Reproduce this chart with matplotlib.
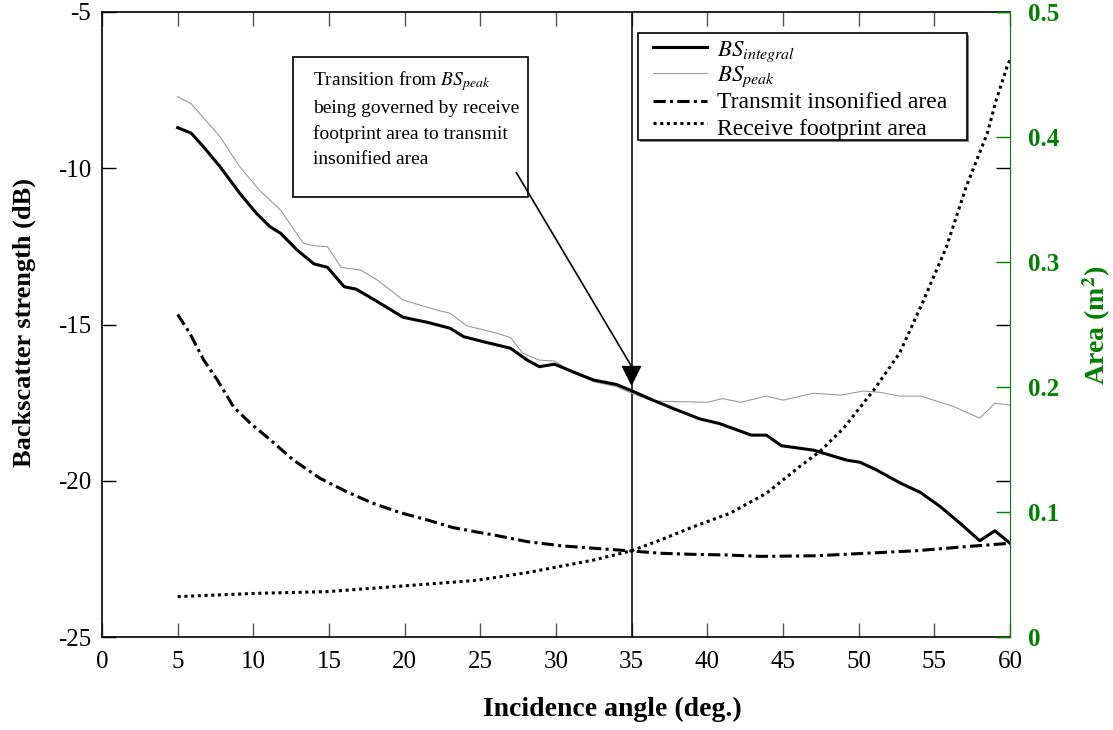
import matplotlib
matplotlib.use("Agg")
import matplotlib.pyplot as plt
from matplotlib.patches import Rectangle
from matplotlib.lines import Line2D
from matplotlib.transforms import ScaledTranslation

plt.rcParams['font.family'] = ['Liberation Serif', 'DejaVu Serif']
plt.rcParams['mathtext.fontset'] = 'stix'

# Backscatter strength (dB) versus incidence angle (deg)
bs_int_angle = [5.0, 5.9, 6.7, 7.8, 9.1, 10.2, 11.1, 11.8, 12.9, 14.0, 14.9, 16.0, 16.8,
                18.2, 19.9, 21.5, 23.0, 23.9, 25.2, 27.0, 28.1, 28.9, 29.9, 31.2, 32.5,
                34.0, 35.0, 36.4, 37.8, 39.5, 40.8, 42.9, 43.9, 44.9, 47.0, 49.2, 50.1,
                51.2, 52.7, 54.1, 55.4, 56.7, 58.0, 59.0, 60.0]
bs_integral = [-8.70, -8.88, -9.31, -9.95, -10.80, -11.44, -11.87, -12.08, -12.62, -13.06,
               -13.17, -13.79, -13.87, -14.27, -14.77, -14.93, -15.12, -15.39, -15.55,
               -15.76, -16.14, -16.35, -16.27, -16.53, -16.78, -16.92, -17.12, -17.42,
               -17.70, -18.02, -18.17, -18.54, -18.54, -18.88, -19.02, -19.34, -19.41,
               -19.66, -20.06, -20.38, -20.83, -21.36, -21.92, -21.60, -22.00]

bs_peak_angle = [5.0, 5.9, 7.8, 9.1, 10.4, 11.8, 13.3, 14.0, 14.9, 15.8, 17.1, 18.2, 19.9,
                 22.3, 23.0, 24.1, 26.1, 27.0, 27.8, 28.9, 29.9, 31.2, 32.5, 34.0, 35.0,
                 36.4, 38.2, 40.0, 41.0, 42.2, 43.9, 45.0, 47.0, 48.8, 50.3, 51.4, 52.7,
                 54.1, 56.3, 58.0, 59.0, 60.0]
bs_peak = [-7.71, -7.94, -8.99, -9.95, -10.70, -11.34, -12.40, -12.48, -12.51, -13.17,
           -13.26, -13.58, -14.22, -14.56, -14.64, -15.04, -15.28, -15.42, -15.92, -16.14,
           -16.17, -16.56, -16.83, -16.99, -17.20, -17.45, -17.47, -17.49, -17.37, -17.49,
           -17.29, -17.42, -17.20, -17.26, -17.13, -17.17, -17.29, -17.29, -17.63, -18.00,
           -17.52, -17.58]

# Areas (m^2) versus incidence angle (deg)
tx_angle = [5.0, 5.8, 6.7, 7.6, 8.7, 9.8, 11.1, 12.6, 14.4, 16.2, 17.9, 19.7, 21.5, 23.2,
            24.9, 25.9, 28.1, 30.3, 32.5, 35.0, 36.9, 39.1, 41.3, 43.5, 47.2, 50.5, 53.8,
            57.1, 60.0]
tx_area = [0.258, 0.243, 0.222, 0.206, 0.184, 0.171, 0.158, 0.142, 0.127, 0.116, 0.107,
           0.0995, 0.0936, 0.0875, 0.0837, 0.0816, 0.0763, 0.073, 0.071, 0.0688, 0.067,
           0.0661, 0.0656, 0.0645, 0.065, 0.067, 0.069, 0.0723, 0.075]

rx_angle = [5.0, 10.4, 14.9, 19.3, 23.7, 24.9, 28.1, 32.5, 35.0, 36.9, 39.1, 41.5, 43.5,
            43.9, 46.1, 47.4, 49.0, 51.0, 52.7, 54.3, 55.8, 57.1, 58.5, 59.1, 59.8, 60.0]
rx_area = [0.0323, 0.035, 0.0363, 0.0403, 0.0443, 0.0456, 0.0515, 0.0616, 0.069, 0.0776,
           0.0883, 0.099, 0.1123, 0.115, 0.1363, 0.148, 0.167, 0.1976, 0.227, 0.2696,
           0.312, 0.360, 0.403, 0.430, 0.456, 0.462]

x_ticks = [0, 5, 10, 15, 20, 25, 30, 35, 40, 45, 50, 55, 60]
bs_ticks = [-25, -20, -15, -10, -5]
area_ticks = [0, 0.1, 0.2, 0.3, 0.4, 0.5]
area_tick_labels = ['0', '0.1', '0.2', '0.3', '0.4', '0.5']

series_labels = ['$BS_{integral}$', '$BS_{peak}$', 'Transmit insonified area',
                 'Receive footprint area']

transition_angle = 35
arrow_tip_db = -16.88
green = '#008000'

W, H = 1113, 730
fig = plt.figure(figsize=(W / 100, H / 100), dpi=100)
ax = fig.add_axes([102 / W, 1 - 637 / H, 908 / W, 625 / H])
ax2 = ax.twinx()


def ax_frac(px, py):
    """Pixel position in the figure -> axes fraction."""
    return (px - 102) / 908, (637 - py) / 625


int_style = dict(color='black', lw=2.2)
peak_style = dict(color='#9a9a9a', lw=0.8)
tx_style = dict(color='black', lw=2.2, linestyle=(0, (4, 1.4, 1, 1.4)))
rx_style = dict(color='black', lw=2.2, linestyle=(0, (1, 1.2)))

ax.plot(bs_int_angle, bs_integral, zorder=4, **int_style)
ax.plot(bs_peak_angle, bs_peak, zorder=3, **peak_style)
ax2.plot(tx_angle, tx_area, **tx_style)
ax2.plot(rx_angle, rx_area, **rx_style)

ax.axvline(transition_angle, color='black', lw=1.1, zorder=2)

ax.set_xlim(0, 60)
ax.set_ylim(-25, -5)
ax2.set_ylim(0, 0.5)

ax.set_xticks(x_ticks)
ax.set_yticks(bs_ticks)
ax.set_xticklabels([str(t) for t in x_ticks])
ax.set_yticklabels([str(t) for t in bs_ticks])
ax.tick_params(direction='in', length=10, width=1, top=True, right=True,
               labelsize=18, pad=8)
ax.tick_params(axis='x', colors='#555555', labelcolor='black', pad=10)

ax2.set_yticks(area_ticks)
ax2.set_yticklabels(area_tick_labels, fontweight='bold')
ax2.tick_params(axis='y', direction='in', length=10, width=1, colors=green,
                labelcolor=green, labelsize=18, pad=13)

ax.spines['right'].set_visible(False)
for side in ['left', 'top', 'bottom']:
    ax2.spines[side].set_visible(False)
    ax.spines[side].set_linewidth(1.2)
ax2.spines['right'].set_color(green)

fig.text(612 / W, 1 - 709 / H, 'Incidence angle (deg.)', ha='center', va='center',
         fontsize=20, fontweight='bold')
fig.text(24 / W, 1 - 322 / H, 'Backscatter strength (dB)', ha='center', va='center',
         rotation=90, fontsize=19, fontweight='bold')
fig.text(1097 / W, 1 - 325 / H, r'Area (m$^{\mathbf{2}}$)', ha='center', va='center',
         rotation=90, fontsize=20, fontweight='bold', color=green)

# annotation box with arrow to the transition point
bx0, by1 = ax_frac(293, 57)
bx1, by0 = ax_frac(528, 197)
ax.add_patch(Rectangle((bx0, by0), bx1 - bx0, by1 - by0, transform=ax.transAxes,
                       facecolor='white', edgecolor='black', lw=1.2, zorder=6))
tx, ty = ax_frac(313, 69)
ax.text(tx, ty,
        'Transition from $BS_{peak}$\nbeing governed by receive\n'
        'footprint area to transmit\ninsonified area',
        transform=ax.transAxes, ha='left', va='top', fontsize=14,
        linespacing=1.58, zorder=7)
# arrow shaft from the box down to the head, then a downward head at the tip
shaft_start = ax.transData.inverted().transform(ax.transAxes.transform(ax_frac(516, 172)))
head_base_offset = ScaledTranslation(0, 12 / 72, fig.dpi_scale_trans)
base_disp = (ax.transData + head_base_offset).transform((transition_angle, arrow_tip_db))
shaft_end = ax.transData.inverted().transform(base_disp)
ax.plot([shaft_start[0], shaft_end[0]], [shaft_start[1], shaft_end[1]],
        color='black', lw=1.2, zorder=8, solid_capstyle='butt')
ax.plot([transition_angle], [arrow_tip_db], marker='v', markersize=12.5,
        color='black', zorder=8, linestyle='none',
        transform=ax.transData + ScaledTranslation(-1 / 100, 8.5 / 100, fig.dpi_scale_trans))

# legend box
lx0, ly1 = ax_frac(638, 33)
lx1, ly0 = ax_frac(967, 140)
sx, sy = 2 / 908, 2 / 625
ax2.add_patch(Rectangle((lx0 + sx, ly0 - sy), lx1 - lx0, ly1 - ly0, transform=ax2.transAxes,
                        facecolor='#808080', edgecolor='none', zorder=9, clip_on=False))
ax2.add_patch(Rectangle((lx0, ly0), lx1 - lx0, ly1 - ly0, transform=ax2.transAxes,
                        facecolor='white', edgecolor='black', lw=1.2, zorder=10,
                        clip_on=False))
handle_rows = [47, 73, 101, 123]
text_baselines = [56, 81, 108, 135]
label_sizes = [16.5, 16.5, 17, 17]
for style, label, hy, tb, fs in zip([int_style, peak_style, tx_style, rx_style],
                                    series_labels, handle_rows, text_baselines, label_sizes):
    hx0, hyf = ax_frac(653, hy)
    hx1, _ = ax_frac(707, hy)
    ax2.add_artist(Line2D([hx0, hx1], [hyf, hyf], transform=ax2.transAxes, zorder=11,
                          **style))
    txx, tby = ax_frac(717, tb)
    ax2.text(txx, tby, label, transform=ax2.transAxes, ha='left', va='baseline',
             fontsize=fs, zorder=11)

fig.savefig('out.png', dpi=100)
